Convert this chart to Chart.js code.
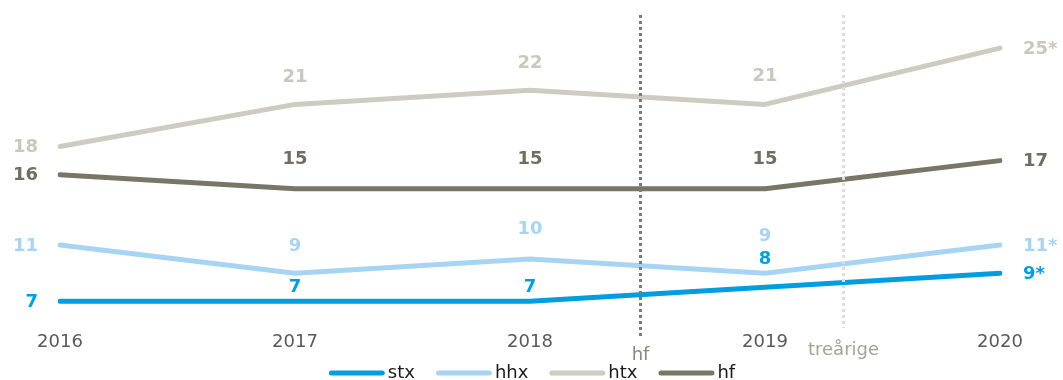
<!DOCTYPE html>
<html>
<head>
<meta charset="utf-8">
<script src="https://cdn.jsdelivr.net/npm/chart.js@4/dist/chart.umd.min.js"></script>
<style>
html, body { margin: 0; padding: 0; background: #fff; }
#wrap { width: 1063px; height: 380px; }
</style>
</head>
<body>
<div id="wrap"><canvas id="chart"></canvas></div>
<script>
const years = ["2016", "2017", "2018", "2019", "2020"];
const stx = [7, 7, 7, 8, 9];
const hhx = [11, 9, 10, 9, 11];
const htx = [18, 21, 22, 21, 25];
const hf = [16, 15, 15, 15, 17];
// footnote sign after the 2020 figure
const lastMark = { stx: "*", hhx: "*", htx: "*", hf: "" };

const FONT = "'DejaVu Sans', Verdana, sans-serif";

function series(label, data, color, textColor, lift) {
  return {
    label: label,
    data: data,
    borderColor: color,
    backgroundColor: color,
    borderWidth: 5,
    borderCapStyle: "round",
    borderJoinStyle: "round",
    pointRadius: 0,
    pointHoverRadius: 0,
    tension: 0,
    textColor: textColor,
    lift: lift,
    mark: lastMark[label]
  };
}

// dotted reference lines between the years
const markerLines = {
  id: "markerLines",
  afterDatasetsDraw(chart, args, opts) {
    const ctx = chart.ctx;
    const x = chart.scales.x;
    opts.lines.forEach(m => {
      const px = Math.round(x.getPixelForValue(m.at)) + 0.5;
      ctx.save();
      ctx.strokeStyle = m.color;
      ctx.lineWidth = 3;
      ctx.setLineDash([3, 3]);
      ctx.beginPath();
      ctx.moveTo(px, m.from);
      ctx.lineTo(px, m.to);
      ctx.stroke();
      ctx.setLineDash([]);
      ctx.fillStyle = m.textColor;
      ctx.font = "18px " + FONT;
      ctx.textAlign = "center";
      ctx.textBaseline = "middle";
      ctx.fillText(m.text, px, m.textY);
      ctx.restore();
    });
  }
};

// value labels: first year to the left, last year to the right, others above
const valueLabels = {
  id: "valueLabels",
  afterDatasetsDraw(chart) {
    const ctx = chart.ctx;
    ctx.save();
    ctx.font = "bold 18px " + FONT;
    ctx.textBaseline = "middle";
    chart.data.datasets.forEach((ds, i) => {
      const pts = chart.getDatasetMeta(i).data;
      const last = pts.length - 1;
      ctx.fillStyle = ds.textColor;
      pts.forEach((pt, j) => {
        const text = String(ds.data[j]);
        if (j === 0) {
          ctx.textAlign = "right";
          ctx.fillText(text, pt.x - 22, pt.y + 1);
        } else if (j === last) {
          ctx.textAlign = "left";
          ctx.fillText(text + ds.mark, pt.x + 23, pt.y + 1);
        } else {
          ctx.textAlign = "center";
          ctx.fillText(text, pt.x, pt.y - ds.lift[j]);
        }
      });
    });
    ctx.restore();
  }
};

// legend row: short thick line, then the series name
const lineLegend = {
  id: "lineLegend",
  afterDraw(chart, args, opts) {
    const ctx = chart.ctx;
    ctx.save();
    ctx.font = "18px " + FONT;
    const items = chart.data.datasets.map(ds => ({ ds: ds, w: ctx.measureText(ds.label).width }));
    let total = 0;
    items.forEach((it, k) => {
      total += opts.swatch + opts.textGap + it.w + (k < items.length - 1 ? opts.itemGap : 0);
    });
    let x = opts.centerX - total / 2;
    const y = opts.y;
    items.forEach(it => {
      ctx.strokeStyle = it.ds.borderColor;
      ctx.lineWidth = 5;
      ctx.lineCap = "round";
      ctx.beginPath();
      ctx.moveTo(x + 2.5, y);
      ctx.lineTo(x + opts.swatch - 2.5, y);
      ctx.stroke();
      x += opts.swatch + opts.textGap;
      ctx.fillStyle = "#1a1a1a";
      ctx.textAlign = "left";
      ctx.textBaseline = "middle";
      ctx.fillText(it.ds.label, x, y);
      x += it.w + opts.itemGap;
    });
    ctx.restore();
  }
};

new Chart(document.getElementById("chart"), {
  type: "line",
  data: {
    labels: years,
    datasets: [
      series("stx", stx, "#009ee0", "#009ee0", [0, 14, 14, 28, 0]),
      series("hhx", hhx, "#a8d4f4", "#a8d4f4", [0, 27, 30, 37, 0]),
      series("htx", htx, "#ccccc0", "#c8c8bc", [0, 27, 27, 28, 0]),
      series("hf", hf, "#787666", "#6f6e60", [0, 29, 29, 29, 0])
    ]
  },
  options: {
    responsive: true,
    maintainAspectRatio: false,
    animation: false,
    events: [],
    layout: { padding: { top: 20, left: 60, right: 63, bottom: 25 } },
    scales: {
      x: {
        offset: false,
        grid: { display: false, drawTicks: false },
        border: { display: false },
        ticks: {
          padding: 2,
          color: "#595959",
          font: { family: FONT, size: 18 }
        }
      },
      y: {
        display: false,
        min: 5,
        max: 27
      }
    },
    plugins: {
      tooltip: { enabled: false },
      legend: { display: false },
      lineLegend: { centerX: 532, y: 373, swatch: 56, textGap: 3, itemGap: 21 },
      markerLines: {
        lines: [
          { text: "hf", at: 2.47, from: 15, to: 336, color: "#7a7a7a", textColor: "#8a897d", textY: 355 },
          { text: "treårige", at: 3.33, from: 15, to: 328, color: "#dcdcdc", textColor: "#a3a397", textY: 350 }
        ]
      }
    }
  },
  plugins: [markerLines, valueLabels, lineLegend]
});
</script>
</body>
</html>
